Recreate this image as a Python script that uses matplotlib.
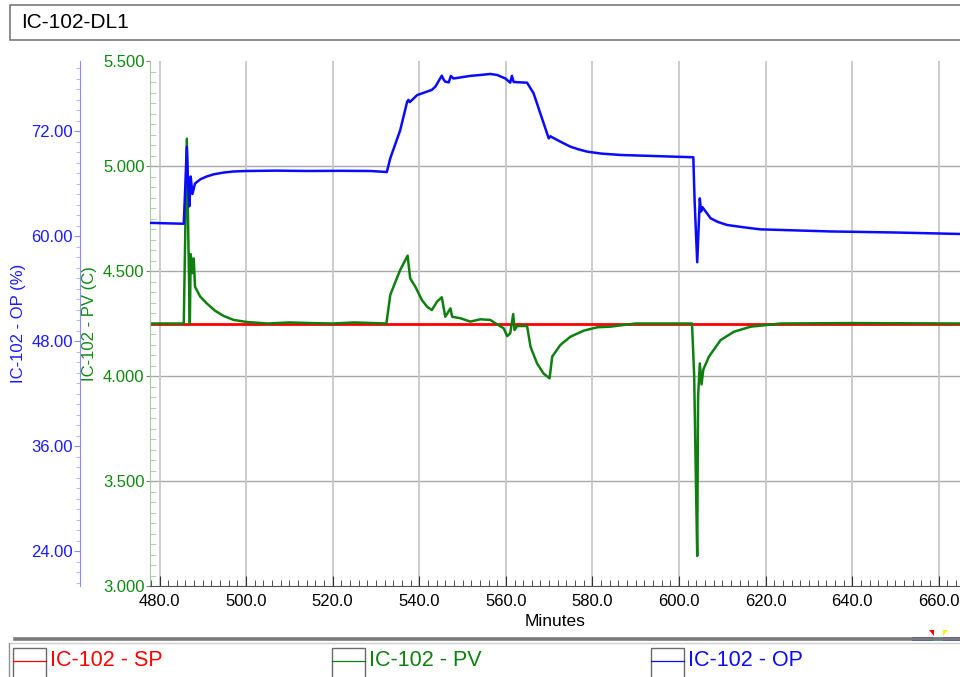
import matplotlib.pyplot as plt
import matplotlib.patches as mpatches
import matplotlib.lines as mlines
from matplotlib.ticker import MultipleLocator, FormatStrFormatter

plt.rcParams['font.family'] = ['Liberation Sans', 'DejaVu Sans']

sp_time = [477.8, 665.0]
sp_vals = [4.25, 4.25]

pv_time = [477.8, 485.6, 486.3, 486.7, 487.0, 487.2, 487.6, 487.9, 488.2, 489.4,
           490.9, 492.8, 494.8, 497.1, 500.2, 505.0, 510.0, 515.0, 520.0, 525.0,
           532.4, 533.3, 534.5, 535.6, 537.3, 537.9, 539.1, 540.6, 541.8, 542.9,
           544.1, 545.2, 546.0, 547.2, 547.6, 549.5, 551.8, 554.1, 556.4, 557.6,
           559.5, 560.3, 561.0, 561.7, 562.0, 562.6, 564.9, 565.7, 567.2, 568.7,
           570.1, 570.7, 572.6, 574.9, 578.0, 581.1, 584.2, 587.2, 590.0, 603.0,
           603.5, 603.8, 604.2, 604.4, 604.8, 605.2, 605.6, 606.9, 609.6, 612.7,
           616.6, 620.4, 623.5, 640.0, 665.0]
pv_vals = [4.25, 4.25, 5.13, 4.60, 4.25, 4.58, 4.49, 4.56, 4.425, 4.378,
           4.346, 4.311, 4.286, 4.267, 4.257, 4.25, 4.255, 4.252, 4.25, 4.255,
           4.25, 4.386, 4.449, 4.505, 4.573, 4.465, 4.425, 4.362, 4.330, 4.314,
           4.354, 4.375, 4.282, 4.322, 4.282, 4.275, 4.259, 4.270, 4.267, 4.251,
           4.227, 4.190, 4.203, 4.295, 4.219, 4.238, 4.238, 4.139, 4.060, 4.012,
           3.989, 4.092, 4.148, 4.187, 4.216, 4.232, 4.235, 4.243, 4.25, 4.25,
           4.0, 3.62, 3.143, 3.90, 4.06, 3.96, 4.03, 4.092, 4.171, 4.211,
           4.235, 4.243, 4.25, 4.252, 4.25]

op_time = [477.8, 485.6, 485.9, 486.3, 486.6, 486.9, 487.2, 487.6, 488.2, 489.5,
           490.9, 492.5, 494.8, 497.0, 500.2, 507.0, 514.0, 521.7, 528.7, 532.5,
           533.3, 535.6, 537.2, 537.5, 537.8, 539.5, 542.9, 543.7, 545.2, 545.6,
           546.0, 546.8, 547.3, 547.9, 551.8, 554.1, 556.4, 558.0, 559.9, 561.0,
           561.4, 561.8, 564.9, 566.4, 569.9, 570.3, 570.7, 572.6, 574.9, 576.8,
           578.8, 582.0, 586.5, 594.2, 603.3, 603.6, 604.2, 604.8, 605.1, 605.4,
           607.3, 609.0, 611.1, 615.0, 618.8, 623.5, 635.0, 650.0, 665.0]
op_vals = [61.5, 61.4, 65.0, 70.2, 66.0, 63.4, 66.8, 64.8, 66.0, 66.5,
           66.8, 67.05, 67.25, 67.37, 67.43, 67.47, 67.43, 67.45, 67.43, 67.31,
           68.88, 72.1, 75.35, 75.55, 75.3, 76.1, 76.7, 77.06, 78.32, 77.9,
           77.64, 77.56, 78.29, 78.0, 78.3, 78.4, 78.52, 78.4, 78.0, 77.52,
           78.3, 77.6, 77.52, 76.31, 71.16, 71.4, 71.28, 70.78, 70.21, 69.9,
           69.64, 69.42, 69.26, 69.14, 69.0, 64.0, 57.0, 64.3, 62.8, 63.3,
           62.02, 61.6, 61.26, 60.99, 60.76, 60.69, 60.52, 60.4, 60.23]

x_major = [480, 500, 520, 540, 560, 580, 600, 620, 640, 660]
pv_major = [3.0, 3.5, 4.0, 4.5, 5.0, 5.5]
op_major = [24, 36, 48, 60, 72]

W, H = 960, 677
def fx(x):
    return x / W
def fy(y):
    return 1 - y / H

fig = plt.figure(figsize=(9.6, 6.77), dpi=100)
ax = fig.add_axes([fx(150), fy(586), 810 / W, 525 / H])
ax2 = ax.twinx()

# PV axis (inner, green)
ax.plot(sp_time, sp_vals, color='#ff0000', lw=2.0)
ax.plot(pv_time, pv_vals, color='#0f800f', lw=1.8)
ax.set_xlim(477.8, 664.9)
ax.set_ylim(3.0, 5.5)
ax.set_xticks(x_major)
ax.xaxis.set_minor_locator(MultipleLocator(2))
ax.xaxis.set_major_formatter(FormatStrFormatter('%.1f'))
ax.set_yticks(pv_major)
ax.yaxis.set_minor_locator(MultipleLocator(0.05))
ax.yaxis.set_major_formatter(FormatStrFormatter('%.3f'))
ax.tick_params(axis='x', which='major', direction='in', length=7, color='#303030',
               labelsize=12, pad=6)
ax.tick_params(axis='x', which='minor', direction='in', length=4, color='#303030')
ax.tick_params(axis='y', which='major', direction='out', length=3, color='#808080',
               labelcolor='#118811', labelsize=12, pad=1)
ax.tick_params(axis='y', which='minor', direction='in', length=4, color='#9fcf9f')
for s in ['top', 'right']:
    ax.spines[s].set_visible(False)
ax.spines['left'].set_color('#9fcf9f')
ax.spines['bottom'].set_color('#505050')
ax.set_axisbelow(True)
ax.xaxis.grid(True, color='#c8c8c8', lw=1.3)
for v in pv_major[1:-1]:
    ax.axhline(v, color='#a8a8a8', lw=1.0, zorder=0)
ax.set_xlabel('Minutes', fontsize=12.5, labelpad=3)
ax.set_ylabel('IC-102 - PV (C)', color='#118811', fontsize=12)
ax.yaxis.set_label_coords(-0.0654, 0.5)

# OP axis (outer, blue)
ax2.plot(op_time, op_vals, color='#0a0aff', lw=1.8)
ax2.set_ylim(20, 80)
ax2.yaxis.tick_left()
ax2.yaxis.set_label_position('left')
ax2.spines['left'].set_position(('outward', 70 * 0.72))
ax2.spines['left'].set_visible(True)
ax2.spines['left'].set_color('#8c8cff')
for s in ['top', 'right', 'bottom']:
    ax2.spines[s].set_visible(False)
ax2.set_yticks(op_major)
ax2.yaxis.set_minor_locator(MultipleLocator(1.2))
ax2.yaxis.set_major_formatter(FormatStrFormatter('%.2f'))
ax2.tick_params(axis='y', which='major', direction='out', length=4, color='#8c8cff',
                labelcolor='#1a1aff', labelsize=12, pad=1)
ax2.tick_params(axis='y', which='minor', direction='out', length=3, color='#a8a8ff')
ax2.set_ylabel('IC-102 - OP (%)', color='#1a1aff', fontsize=12)
ax2.yaxis.set_label_coords(-0.153, 0.5)

# title box
fig.add_artist(mpatches.Rectangle((fx(10), fy(40)), 960 / W, 35 / H, transform=fig.transFigure,
                                  facecolor='white', edgecolor='#7a7a7a', lw=1.2))
fig.text(fx(21), fy(23), 'IC-102-DL1', fontsize=15, va='center', ha='left')

# separator bar above legend
fig.add_artist(mlines.Line2D([fx(15), fx(960)], [fy(638.5), fy(638.5)], transform=fig.transFigure,
                             color='#7a7a7a', lw=2.6))
fig.add_artist(mlines.Line2D([fx(9), fx(960)], [fy(642.5), fy(642.5)], transform=fig.transFigure,
                             color='#d0d0d0', lw=1.0))
fig.add_artist(mlines.Line2D([fx(9), fx(9)], [fy(643), fy(677)], transform=fig.transFigure,
                             color='#909090', lw=1.0))

# small scroll widget bottom right
fig.add_artist(mpatches.Rectangle((fx(912), fy(641)), 48 / W, 4 / H, transform=fig.transFigure,
                                  facecolor='#0000ee', edgecolor='none'))
fig.add_artist(mpatches.Rectangle((fx(933), fy(641)), 10 / W, 4 / H, transform=fig.transFigure,
                                  facecolor='#00e8ff', edgecolor='none'))
fig.add_artist(mpatches.Polygon([(fx(929), fy(630)), (fx(934), fy(630)), (fx(934), fy(636))],
                                transform=fig.transFigure, facecolor='#ff0000', edgecolor='none'))
fig.add_artist(mpatches.Polygon([(fx(943), fy(630)), (fx(948), fy(630)), (fx(943), fy(636))],
                                transform=fig.transFigure, facecolor='#ffee00', edgecolor='none'))

# legend entries
legend_names = ['IC-102 - SP', 'IC-102 - PV', 'IC-102 - OP']
legend_colors = ['#ff0000', '#0f800f', '#0a0aff']
legend_x = [13, 332, 651]
for name, col, x0 in zip(legend_names, legend_colors, legend_x):
    fig.add_artist(mpatches.Rectangle((fx(x0), fy(680)), 33 / W, 32 / H, transform=fig.transFigure,
                                      facecolor='white', edgecolor='#6a6a6a', lw=1.0))
    fig.add_artist(mlines.Line2D([fx(x0), fx(x0 + 33)], [fy(661), fy(661)], transform=fig.transFigure,
                                 color=col, lw=0.9))
    fig.text(fx(x0 + 37), fy(661), name, color=col, fontsize=15.5, va='center', ha='left')

fig.savefig('out.png', dpi=100)
